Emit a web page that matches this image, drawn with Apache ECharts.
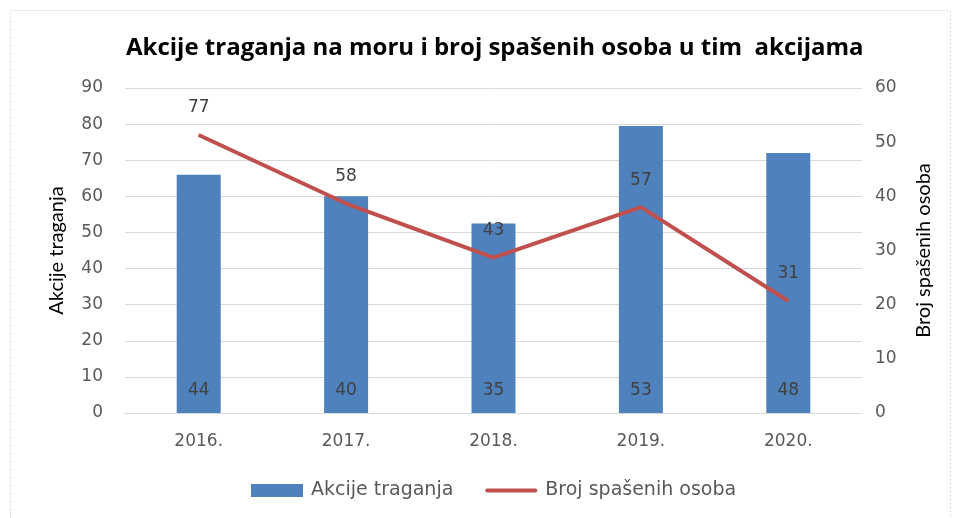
<!DOCTYPE html>
<html><head><meta charset="utf-8">
<script src="https://cdn.jsdelivr.net/npm/echarts@6/dist/echarts.min.js"></script>
<style>html,body{margin:0;padding:0;background:#fff}#c{width:957px;height:518px}</style>
</head><body><div id="c"></div>
<script>
const categories = ['2016.', '2017.', '2018.', '2019.', '2020.'];
const akcijeTraganja = [44, 40, 35, 53, 48];
const brojSpasenih = [77, 58, 43, 57, 31];
const leftTicks = {min: 0, max: 90, interval: 10};
const rightTicks = {min: 0, max: 60, interval: 10};

const chart = echarts.init(document.getElementById('c'), null, {renderer: 'canvas'});
const tickFont = {color: '#595959', fontSize: 17, fontFamily: 'DejaVu Sans'};
chart.setOption({
  animation: false,
  backgroundColor: '#fff',
  graphic: [{type: 'rect', left: 8, top: 8, shape: {width: 940, height: 530}, style: {fill: 'none', stroke: '#d9d9d9', lineWidth: 1, lineDash: [2, 2]}, silent: true}],
  title: {
    text: 'Akcije traganja na moru i broj spašenih osoba u tim  akcijama',
    left: 121, top: 31,
    textStyle: {fontFamily: 'Open Sans', fontWeight: 'bold', fontSize: 24, color: '#000'}
  },
  legend: {
    top: 476, left: 246, itemGap: 32, itemWidth: 52, itemHeight: 13,
    textStyle: {color: '#595959', fontSize: 19, fontFamily: 'DejaVu Sans', padding: [0, 0, 0, 3]},
    data: [
      {name: 'Akcije traganja', icon: 'rect'},
      {name: 'Broj spašenih osoba', icon: 'path://M2,0H53A2,2,0,0,1,53,4H2A2,2,0,0,1,2,0Z'}
    ]
  },
  grid: {left: 125, right: 95, top: 88, bottom: 105},
  xAxis: {
    type: 'category', data: categories,
    axisLine: {lineStyle: {color: '#d9d9d9'}}, axisTick: {show: false},
    axisLabel: Object.assign({margin: 20}, tickFont)
  },
  yAxis: [{
    type: 'value', min: leftTicks.min, max: leftTicks.max, interval: leftTicks.interval,
    name: 'Akcije traganja', nameLocation: 'middle', nameGap: 58, nameRotate: 90,
    nameTextStyle: {color: '#000', fontSize: 20, fontFamily: 'Lato'},
    axisLine: {show: false}, axisTick: {show: false},
    axisLabel: Object.assign({margin: 22}, tickFont),
    splitLine: {lineStyle: {color: '#d9d9d9'}}
  }, {
    type: 'value', min: rightTicks.min, max: rightTicks.max, interval: rightTicks.interval,
    name: 'Broj spašenih osoba', nameLocation: 'middle', nameGap: 52, nameRotate: 90,
    nameTextStyle: {color: '#000', fontSize: 20, fontFamily: 'Lato'},
    axisLine: {show: false}, axisTick: {show: false},
    axisLabel: Object.assign({margin: 13}, tickFont),
    splitLine: {show: false}
  }],
  series: [{
    name: 'Akcije traganja', type: 'bar', yAxisIndex: 1, data: akcijeTraganja,
    barWidth: 44, itemStyle: {color: '#4f81bd'},
    label: {show: true, position: 'insideBottom', distance: 14, color: '#404040', fontSize: 17, fontFamily: 'DejaVu Sans'}
  }, {
    name: 'Broj spašenih osoba', type: 'line', yAxisIndex: 0, data: brojSpasenih,
    symbol: 'circle', symbolSize: 1, showSymbol: true,
    lineStyle: {color: '#c0504d', width: 4}, itemStyle: {color: '#c0504d'},
    label: {show: true, position: 'top', distance: 18, color: '#404040', fontSize: 17, fontFamily: 'DejaVu Sans'}
  }]
});
</script></body></html>
